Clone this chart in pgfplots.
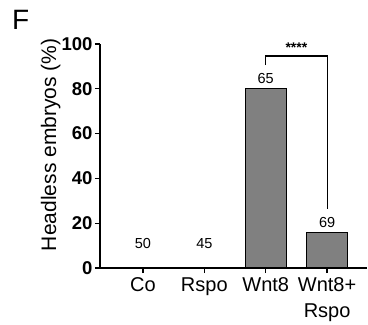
\documentclass[border=0pt]{standalone}
\usepackage{pgfplots}
\pgfplotsset{compat=1.18}
\usepackage{fontspec}
\setmainfont{Liberation Sans}
\definecolor{bargray}{RGB}{128,128,128}
\begin{document}
\begin{tikzpicture}[x=1bp,y=1bp]
\path[use as bounding box] (-100,-57) rectangle (268,268);
\begin{axis}[
  at={(0,0)}, anchor=south west,
  scale only axis, width=267bp, height=224bp,
  xmin=-0.70, xmax=3.65, ymin=0, ymax=100,
  axis x line=bottom, axis y line=left,
  axis line style={line width=1.6bp, -},
  every tick/.style={line width=1.4bp, black},
  tick align=outside, major tick length=5bp,
  xtick={0,1,2,3},
  xticklabels={Co,Rspo,Wnt8,{Wnt8+\\Rspo}},
  xticklabel style={align=center, font=\fontsize{20bp}{26.5bp}\selectfont, yshift=-1bp},
  ytick={0,20,40,60,80,100},
  yticklabel style={font=\bfseries\fontsize{18.5bp}{18bp}\selectfont, xshift=1bp},
  /pgf/number format/assume math mode=true,
  ylabel={Headless embryos (\%)},
  ylabel style={at={(axis description cs:-0.185,0.55)}, anchor=center, font=\fontsize{21bp}{21bp}\selectfont},
  clip=false,
]
\addplot[ybar, bar width=41bp, fill=bargray, draw=black, line width=1.3bp]
  coordinates {(0,0) (1,0) (2,80) (3,16)};
\node[font=\fontsize{14.5bp}{14bp}\selectfont] at (axis cs:0,11) {50};
\node[font=\fontsize{14.5bp}{14bp}\selectfont] at (axis cs:1,11) {45};
\node[font=\fontsize{14.5bp}{14bp}\selectfont] at (axis cs:2,84.5) {65};
\node[font=\fontsize{14.5bp}{14bp}\selectfont] at (axis cs:3,20.5) {69};
\draw[line width=1.2bp] (axis cs:2,90.6) -- (axis cs:2,94.6) -- (axis cs:3,94.6) -- (axis cs:3,26.3);
\node[anchor=base, inner sep=0pt, font=\bfseries\fontsize{14bp}{14bp}\selectfont] at (axis cs:2.5,96) {****};
\end{axis}
\node[anchor=north west, inner sep=0pt, font=\fontsize{28bp}{28bp}\selectfont] at (-88,258) {F};
\end{tikzpicture}
\end{document}
